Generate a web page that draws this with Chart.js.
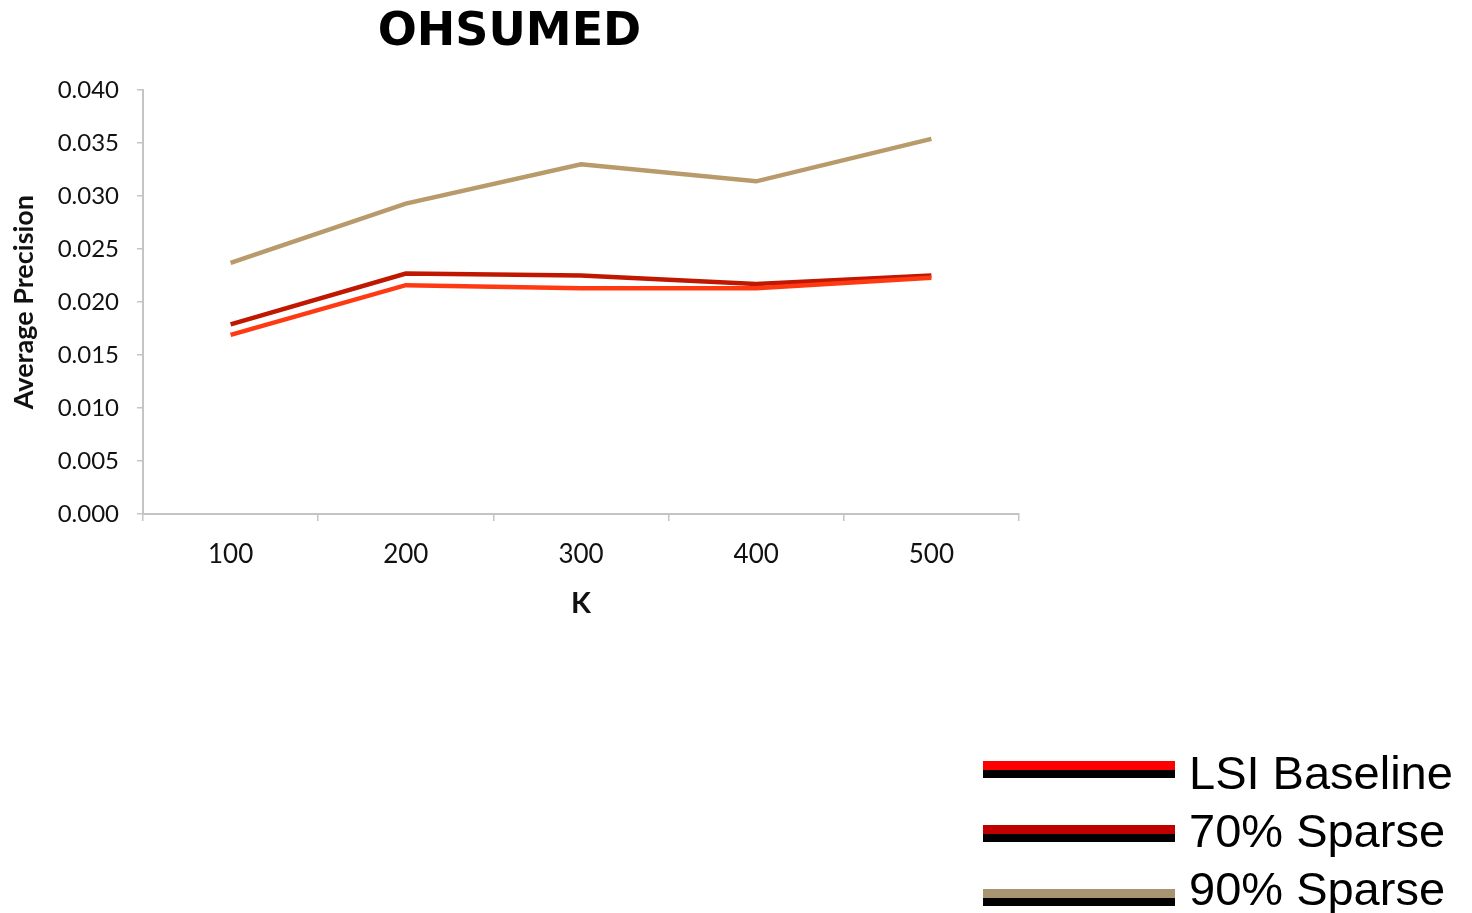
<!DOCTYPE html>
<html>
<head>
<meta charset="utf-8">
<title>OHSUMED</title>
<script src="https://cdn.jsdelivr.net/npm/chart.js@4/dist/chart.umd.min.js"></script>
<style>
  html, body { margin: 0; padding: 0; background: #fff; }
  #wrap { width: 1472px; height: 913px; position: relative; }
</style>
</head>
<body>
<div id="wrap"><canvas id="apChart"></canvas></div>
<script>
// K values on the x axis
const kValues = ["100", "200", "300", "400", "500"];

// average precision per K
const lsiBaseline = [0.0169, 0.0216, 0.0213, 0.0213, 0.0223];
const sparse70 = [0.0179, 0.0227, 0.0225, 0.0217, 0.0225];
const sparse90 = [0.0237, 0.0293, 0.0330, 0.0314, 0.0354];

const seriesNames = ["LSI Baseline", "70% Sparse", "90% Sparse"];
const lineColors = ["#ff3a12", "#c01800", "#b89a6b"];
const legendColors = ["#ff0000", "#c00000", "#a89470"];

const axisGray = "#c4c4c4";

// legend drawn bottom right: coloured bar over a black bar, then the name
const barLegend = {
    id: "barLegend",
    afterDraw(chart) {
        const ctx = chart.ctx;
        ctx.save();
        chart.data.datasets.forEach((ds, i) => {
            const top = 761 + i * 64;
            ctx.fillStyle = ds.legendColor;
            ctx.fillRect(983, top, 192, 9);
            ctx.fillStyle = "#000";
            ctx.fillRect(983, top + 9, 192, 8);
            ctx.font = "47px 'Liberation Sans', Arial, sans-serif";
            ctx.textBaseline = "alphabetic";
            ctx.textAlign = "left";
            ctx.fillText(ds.label, 1189, 789 + i * 58);
        });
        ctx.restore();
    }
};

const ctx = document.getElementById("apChart").getContext("2d");
new Chart(ctx, {
    type: "line",
    data: {
        labels: kValues,
        datasets: [lsiBaseline, sparse70, sparse90].map((vals, i) => ({
            label: seriesNames[i],
            data: vals,
            borderColor: lineColors[i],
            legendColor: legendColors[i],
            borderWidth: 4.5,
            pointRadius: 0,
            tension: 0,
            fill: false
        }))
    },
    options: {
        responsive: true,
        maintainAspectRatio: false,
        animation: false,
        layout: { padding: { left: 0, right: 453, top: 0, bottom: 292 } },
        plugins: {
            legend: { display: false },
            tooltip: { enabled: false },
            title: {
                display: true,
                text: "OHSUMED",
                color: "#000",
                font: { family: "'DejaVu Sans', sans-serif", size: 46, weight: "bold" },
                padding: { top: 5, bottom: 30 }
            }
        },
        scales: {
            x: {
                type: "category",
                offset: true,
                afterFit: scale => { scale.height = 107; },
                grid: { offset: true, drawOnChartArea: false, tickLength: 7, color: axisGray, lineWidth: 1.5 },
                border: { color: axisGray, width: 2 },
                ticks: { color: "#111", padding: 18, font: { family: "Lato, sans-serif", size: 26 } },
                title: {
                    display: true,
                    text: "K",
                    color: "#111",
                    font: { family: "Lato, sans-serif", size: 29, weight: "bold" },
                    padding: { top: 0, bottom: 0 }
                }
            },
            y: {
                min: 0,
                max: 0.04,
                afterFit: scale => { scale.width = 143; },
                grid: { drawOnChartArea: false, tickLength: 6, color: axisGray, lineWidth: 1.5 },
                border: { color: axisGray, width: 2 },
                ticks: {
                    stepSize: 0.005,
                    color: "#111",
                    padding: 18,
                    font: { family: "Lato, sans-serif", size: 24 },
                    callback: v => v.toFixed(3)
                },
                title: {
                    display: true,
                    text: "Average Precision",
                    color: "#111",
                    font: { family: "Lato, sans-serif", size: 27, weight: "bold" },
                    padding: { top: 8, bottom: 0 }
                }
            }
        }
    },
    plugins: [barLegend]
});
</script>
</body>
</html>
